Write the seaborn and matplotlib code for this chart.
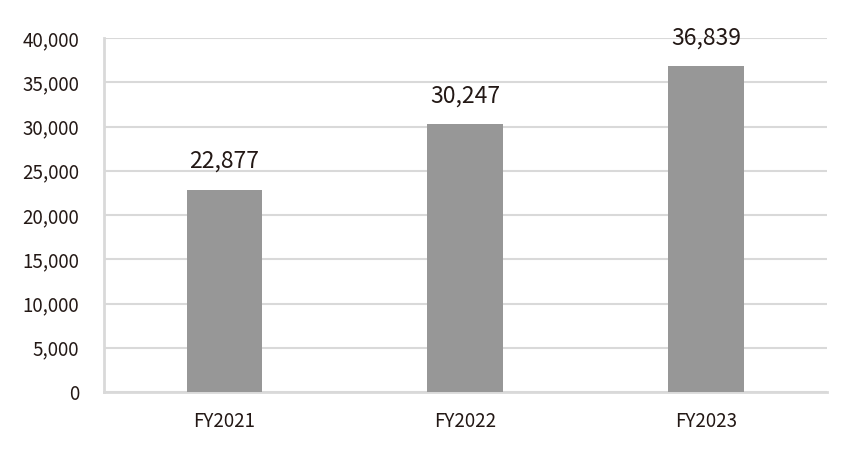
import matplotlib
matplotlib.use("Agg")
import matplotlib.pyplot as plt
import seaborn as sns
import pandas as pd
from matplotlib.ticker import FuncFormatter, MultipleLocator

categories = ["FY2021", "FY2022", "FY2023"]
values = [22877, 30247, 36839]

sns.set_theme(style="white")
plt.rcParams['font.family'] = ['Noto Sans CJK JP', 'DejaVu Sans']

df = pd.DataFrame({"year": categories, "value": values})

fig = plt.figure(figsize=(8.63, 4.57), dpi=100)
ax = fig.add_axes([0.1205, 0.1422, 0.958 - 0.1205, 0.9168 - 0.1422])
sns.barplot(data=df, x="year", y="value", color="#979797", saturation=1,
            width=0.315, linewidth=0, edgecolor="none", ax=ax, zorder=3)

ax.set_ylim(0, 40000)
ax.set_xlim(-0.5, 2.5)
ax.yaxis.set_major_locator(MultipleLocator(5000))
ax.yaxis.set_major_formatter(FuncFormatter(lambda v, p: f"{int(v):,}"))
ax.grid(axis="y", color="#d9d9d9", linewidth=1.5, zorder=0)
ax.set_axisbelow(True)
for s in ["top", "right"]:
    ax.spines[s].set_visible(False)
for s in ["left", "bottom"]:
    ax.spines[s].set_color("#d9d9d9")
    ax.spines[s].set_linewidth(2)
ax.set_xlabel("")
ax.set_ylabel("")
ax.tick_params(axis="both", length=0, labelsize=13.5, colors="#231815")
ax.tick_params(axis="y", pad=18)
ax.tick_params(axis="x", pad=14)

for i, v in enumerate(values):
    ax.annotate(f"{v:,}", (i, v), xytext=(0, 12), textcoords="offset points",
                ha="center", va="bottom", fontsize=16.5, color="#231815")

fig.savefig("out.png", dpi=100)
